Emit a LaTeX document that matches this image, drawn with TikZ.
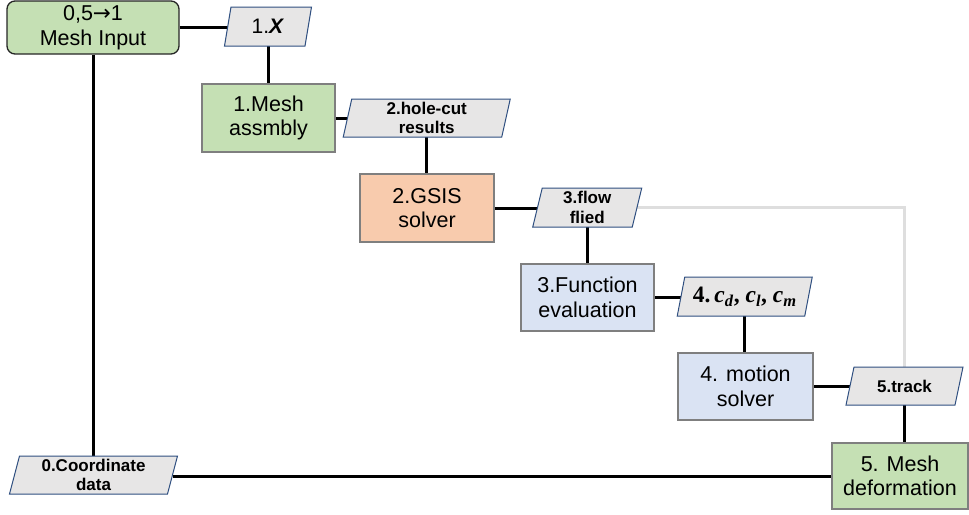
\documentclass[tikz,border=0pt]{standalone}
\usepackage{fontspec}
\setmainfont{Liberation Sans}
\newfontfamily\coefserif{Liberation Serif}
\newfontfamily\arrowfont{DejaVu Sans}
\usetikzlibrary{backgrounds}
\definecolor{boxgreen}{HTML}{C5E0B4}
\definecolor{boxorange}{HTML}{F8CBAD}
\definecolor{boxblue}{HTML}{DAE3F3}
\definecolor{paragray}{HTML}{E7E6E6}
\definecolor{paraline}{HTML}{2F4F80}
\definecolor{boxline}{HTML}{7F7F7F}
\definecolor{miline}{HTML}{262626}
\definecolor{lightline}{HTML}{DEDEDE}
\newcommand{\cvar}[1]{\textit{c}\textsubscript{\textit{#1}}}
\newcommand{\coeftext}{{\coefserif\bfseries 4.\,\cvar{d}, \cvar{l}, \cvar{m}}}
\newcommand{\paranode}[7]{%
  \path[parashape] (#2-#4/2+#6/2,#3-#5/2) -- (#2+#4/2+#6/2,#3-#5/2) -- (#2+#4/2-#6/2,#3+#5/2) -- (#2-#4/2-#6/2,#3+#5/2) -- cycle;
  \node[paratext, minimum width=#4pt, minimum height=#5pt] (#1) at (#2,#3) {#7};}
\begin{document}
\begin{tikzpicture}[x=1pt,y=-1pt,
  box/.style={draw=boxline, line width=1.3pt, align=center, inner sep=0pt, text=black, font=\fontsize{21.5}{24.5}\selectfont},
  paratext/.style={inner sep=0pt, align=center, text=black, font=\fontsize{17}{19.5}\selectfont\bfseries},
  parashape/.style={draw=paraline, fill=paragray, line width=1pt},
  conn/.style={line width=3pt, black},
  ghost/.style={line width=3pt, lightline}]
\useasboundingbox (0,0) rectangle (969,514);

% process boxes
\node[box, fill=boxgreen, draw=miline, rounded corners=8pt, minimum width=172pt, minimum height=53pt] (mi) at (93,27.5) {0,5{\arrowfont →}1\\Mesh Input};
\node[box, fill=boxgreen, minimum width=133pt, minimum height=68pt] (ma) at (268.5,118) {1.Mesh\\assmbly};
\node[box, fill=boxorange, minimum width=134pt, minimum height=68pt] (gs) at (427,208) {2.GSIS\\solver};
\node[box, fill=boxblue, minimum width=133pt, minimum height=67pt] (fe) at (587.5,297.5) {3.Function\\evaluation};
\node[box, fill=boxblue, minimum width=135pt, minimum height=67pt] (ms) at (745.5,386.5) {4. motion\\solver};
\node[box, fill=boxgreen, minimum width=136pt, minimum height=66pt] (md) at (900,476) {5. Mesh\\deformation};

% data parallelograms
\paranode{p1}{268}{26.5}{80.5}{39}{6.5}{\fontsize{21}{24}\selectfont\mdseries 1.\textbf{\textit{X}}}
\paranode{p2}{426.75}{118}{158.5}{38}{8.5}{2.hole-cut\\results}
\paranode{p3}{587.25}{207.5}{99.5}{39}{9.5}{3.flow\\flied}
\paranode{p4}{744.75}{296.5}{127.5}{39}{7.5}{\fontsize{23.5}{26}\selectfont\coeftext}
\paranode{p5}{904.5}{386}{109}{38}{8}{5.track}
\paranode{p0}{93.5}{475}{158}{38}{10}{0.Coordinate\\data}

% connectors
\begin{scope}[on background layer]
\draw[ghost] (p3.east) -- (p3.east -| p5.north) -- (p5.north);
\draw[conn] (mi.east) -- (mi.east -| p1.west);
\draw[conn] (p1.south) -- (p1.south |- ma.north);
\draw[conn] (ma.east) -- (ma.east -| p2.west);
\draw[conn] (p2.south) -- (p2.south |- gs.north);
\draw[conn] (gs.east) -- (gs.east -| p3.west);
\draw[conn] (p3.south) -- (p3.south |- fe.north);
\draw[conn] (fe.east) -- (fe.east -| p4.west);
\draw[conn] (p4.south) -- (p4.south |- ms.north);
\draw[conn] (ms.east) -- (ms.east -| p5.west);
\draw[conn] (p5.south) -- (p5.south |- md.north);
\draw[conn] (md.west) -- (md.west -| p0.east);
\draw[conn] (mi.south) -- (mi.south |- p0.north);
\end{scope}
\end{tikzpicture}
\end{document}
